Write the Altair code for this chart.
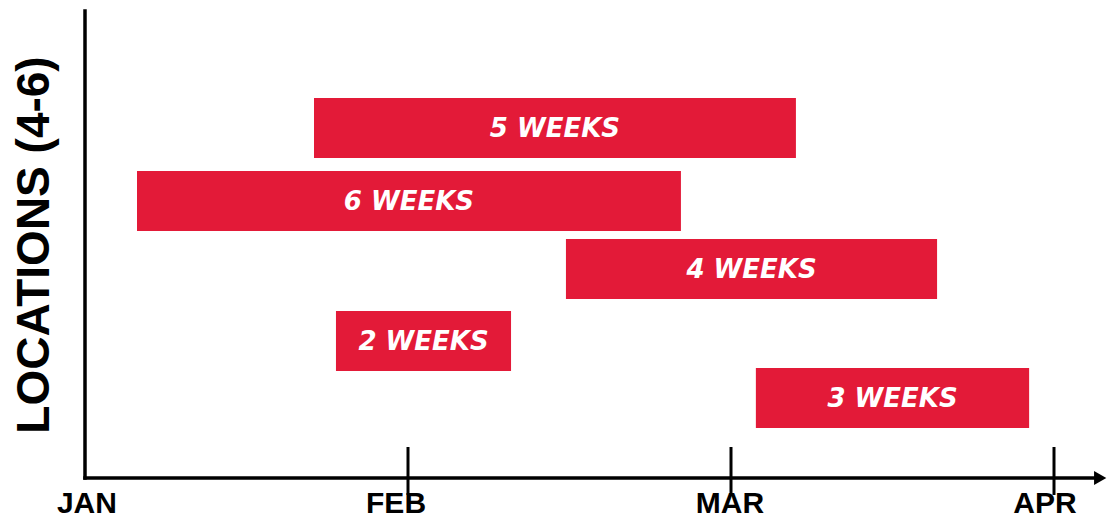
import altair as alt
import pandas as pd

# Bars (x in months from Jan 1, y = row centre in bar-height units above the axis)
bar_labels = ["5 WEEKS", "6 WEEKS", "4 WEEKS", "2 WEEKS", "3 WEEKS"]
bar_start = [0.709, 0.161, 1.489, 0.777, 2.077]
bar_end = [2.201, 1.845, 2.638, 1.319, 2.923]
bar_row = [5.833, 4.617, 3.483, 2.283, 1.333]

month_labels = ["JAN", "FEB", "MAR", "APR"]
month_label_pos = [0.006, 0.963, 1.997, 2.972]
tick_months = [1, 2, 3]

RED = "#E31A38"
W, H = 1099, 511
xs = alt.Scale(domain=[-0.23839, 3.16409], nice=False, zero=False)
ys = alt.Scale(domain=[-0.6833, 7.8333], nice=False, zero=False)

bars_df = pd.DataFrame({
    "label": bar_labels,
    "start": bar_start,
    "end": bar_end,
    "y0": [r - 0.5 for r in bar_row],
    "y1": [r + 0.5 for r in bar_row],
    "mid": [(a + b) / 2 for a, b in zip(bar_start, bar_end)],
    "row": bar_row,
})

bars = alt.Chart(bars_df).mark_rect(color=RED).encode(
    x=alt.X("start:Q", scale=xs, axis=None),
    x2="end:Q",
    y=alt.Y("y0:Q", scale=ys, axis=None),
    y2="y1:Q",
)

bar_text = alt.Chart(bars_df).mark_text(
    color="white", font="DejaVu Sans", fontWeight="bold", fontStyle="italic",
    fontSize=26, baseline="middle", align="center", dy=1
).encode(
    x=alt.X("mid:Q", scale=xs, axis=None),
    y=alt.Y("row:Q", scale=ys, axis=None),
    text="label:N",
)

axes_df = pd.DataFrame({
    "x": [0.0, 0.0],
    "x2": [0.0, 3.135],
    "y": [0.0, 0.0],
    "y2": [7.783, 0.0],
})
axis_lines = alt.Chart(axes_df).mark_rule(color="black", strokeWidth=3.5, strokeCap="square").encode(
    x=alt.X("x:Q", scale=xs, axis=None),
    x2="x2:Q",
    y=alt.Y("y:Q", scale=ys, axis=None),
    y2="y2:Q",
)

ticks_df = pd.DataFrame({"m": tick_months, "lo": [-0.283] * 3, "hi": [0.517] * 3})
ticks = alt.Chart(ticks_df).mark_rule(color="black", strokeWidth=3).encode(
    x=alt.X("m:Q", scale=xs, axis=None),
    y=alt.Y("lo:Q", scale=ys, axis=None),
    y2="hi:Q",
)

arrow_df = pd.DataFrame({"x": [3.143], "y": [0.0]})
arrow = alt.Chart(arrow_df).mark_point(
    shape="triangle-right", filled=True, color="black", size=200, opacity=1
).encode(
    x=alt.X("x:Q", scale=xs, axis=None),
    y=alt.Y("y:Q", scale=ys, axis=None),
)

mlab_df = pd.DataFrame({"label": month_labels, "x": month_label_pos, "y": [-0.58] * 4})
month_text = alt.Chart(mlab_df).mark_text(
    color="black", font="Liberation Sans", fontWeight="bold", fontSize=30,
    baseline="alphabetic", align="center"
).encode(
    x=alt.X("x:Q", scale=xs, axis=None),
    y=alt.Y("y:Q", scale=ys, axis=None),
    text="label:N",
)

title_df = pd.DataFrame({"t": ["LOCATIONS (4-6)"]})
ytitle = alt.Chart(title_df).mark_text(
    color="black", font="Liberation Sans", fontWeight="bold", fontSize=46,
    angle=270, baseline="middle", align="center"
).encode(
    x=alt.value(27), y=alt.value(237), text="t:N"
)

chart = alt.layer(bars, bar_text, axis_lines, ticks, arrow, month_text, ytitle).properties(
    width=W, height=H, padding=0, autosize="none"
).configure(background="white", view=alt.ViewConfig(stroke="transparent", strokeWidth=0))

chart.save("out.html", embed_options={"renderer": "svg", "actions": False})
